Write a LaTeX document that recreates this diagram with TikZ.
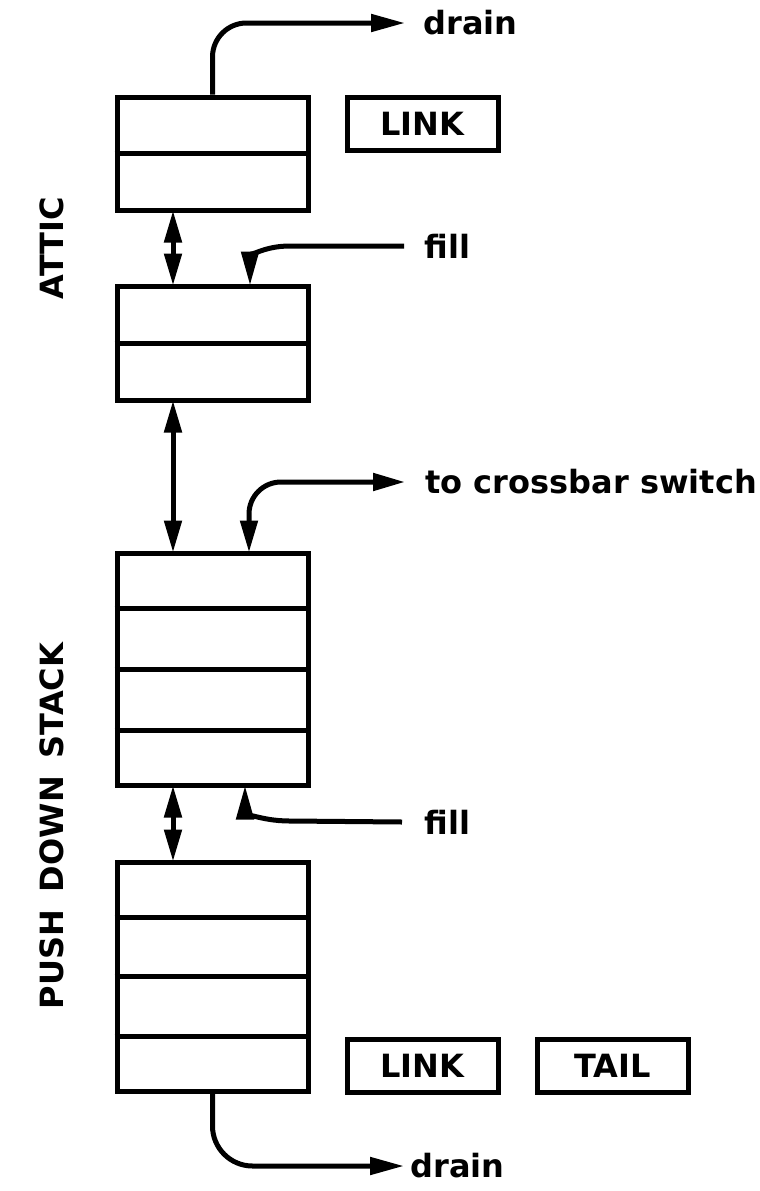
\documentclass[tikz,border=0pt]{standalone}
\usepackage{fontspec}
\setmainfont{DejaVu Sans}
\usetikzlibrary{arrows.meta}
\newcommand\diaglab{\fontsize{32}{40}\selectfont\bfseries}
\begin{document}
\begin{tikzpicture}[x=1pt,y=-1pt, line width=5pt,
  reg/.style={draw, rectangle, minimum width=191pt, inner sep=0pt},
  tag/.style={draw, rectangle, minimum width=151pt, minimum height=53pt, inner sep=0pt, font=\diaglab},
  lbl/.style={inner sep=0pt, anchor=west, font=\diaglab},
  side/.style={inner sep=0pt, rotate=90, font=\diaglab},
  arr/.style={-{Triangle[length=34pt,width=17pt]}, shorten >=-2pt},
  darr/.style={{Triangle[length=32pt,width=17pt]}-{Triangle[length=32pt,width=17pt]}, shorten >=-2pt, shorten <=-2pt},
]
\useasboundingbox (0,0) rectangle (760,1191);

% registers
\node[reg, minimum height=113pt] (b1) at (212.5,153.5) {};
\node[reg, minimum height=114pt] (b2) at (212.5,343) {};
\node[reg, minimum height=232pt] (b3) at (212.5,669) {};
\node[reg, minimum height=229pt] (b4) at (212.5,976.5) {};
\draw (b1.west) -- (b1.east);
\draw (b2.west) -- (b2.east);
\foreach \b in {b3,b4}{
  \draw (\b.west) -- (\b.east);
  \draw ([yshift=-57.5pt]\b.north west) -- ([yshift=-57.5pt]\b.north east);
  \draw ([yshift=57.5pt]\b.south west) -- ([yshift=57.5pt]\b.south east);
}

% tags
\node[tag] (link1) at (422.5,123.5) {LINK};
\node[tag] (link2) at (422.5,1066) {LINK};
\node[tag] (tail) at (612.5,1066) {TAIL};

% labels
\node[lbl] (drain1) at (421,23) {drain};
\node[lbl] (fill1) at (422,246) {fill};
\node[lbl] (xbar) at (423,482) {to crossbar switch};
\node[lbl] (fill2) at (422,822) {fill};
\node[lbl] (drain2) at (408,1166) {drain};
\node[side] (attic) at (52,248) {ATTIC};
\node[side] (pds) at (52,826) {PUSH\hspace{18pt}DOWN\hspace{18pt}STACK};

% helper x positions
\coordinate (ax) at (173,0);
\coordinate (f1x) at (250,0);
\coordinate (cbx) at (249,0);
\coordinate (f2x) at (245,0);
\coordinate (f1c) at (290,246);
\coordinate (f2c) at (290,821);

% connectors
\draw[darr] (b1.south -| ax) -- (b2.north -| ax);
\draw[darr] (b2.south -| ax) -- (b3.north -| ax);
\draw[darr] (b3.south -| ax) -- (b4.north -| ax);
\draw[arr, rounded corners=34pt] (b1.north) |- ([xshift=-18pt]drain1.west);
\draw[arr] ([xshift=-18pt]fill1.west) -- (f1c) .. controls (262,246) and (250,258) .. (b2.north -| f1x);
\draw[darr, rounded corners=32pt] (b3.north -| cbx) |- ([xshift=-20pt]xbar.west);
\draw[arr] ([xshift=-20pt]fill2.west) -- (f2c) .. controls (258,821) and (245,810) .. (b3.south -| f2x);
\draw[arr, rounded corners=40pt] (b4.south) |- ([xshift=-6pt]drain2.west);
\end{tikzpicture}
\end{document}
